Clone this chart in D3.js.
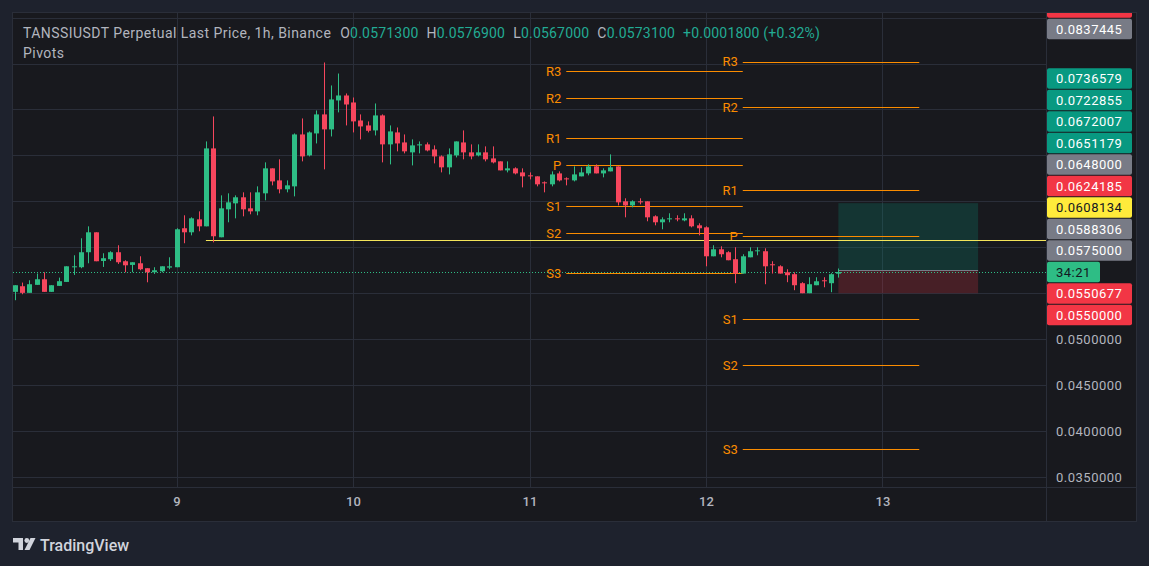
<!DOCTYPE html>
<html>
<head>
<meta charset="utf-8">
<script src="https://cdn.jsdelivr.net/npm/d3@7"></script>
<style>
  html, body { margin: 0; padding: 0; background: #1e222d; }
  svg { display: block; font-family: Roboto, "Noto Sans", sans-serif; }
</style>
</head>
<body>
<svg id="chart" width="1149" height="566"></svg>
<script>
// ---- data ----
const symbolTitle = 'TANSSIUSDT Perpetual Last Price, 1h, Binance';
const studyTitle = 'Pivots';
const firstCandle = '2025-03-08T02:00:00Z';
const viewRange = ['2025-03-08T01:46:00Z', '2025-03-13T22:14:00Z'];
const priceRange = [0.033912, 0.085496];
const priceTicks = [0.035, 0.04, 0.045, 0.05, 0.055, 0.06, 0.065, 0.07, 0.075, 0.08, 0.085];

const opens = [
  0.05515, 0.05576, 0.05504, 0.05591, 0.05652, 0.05515, 0.05580, 0.05623, 0.05783, 0.05783,
  0.05946, 0.06163, 0.05851, 0.05870, 0.05946, 0.05848, 0.05808, 0.05826, 0.05772, 0.05728,
  0.05739, 0.05779, 0.05783, 0.06207, 0.06163, 0.06304, 0.06228, 0.07076, 0.06109, 0.06413,
  0.06478, 0.06544, 0.06424, 0.06391, 0.06587, 0.06859, 0.06728, 0.06631, 0.06663, 0.07228,
  0.07000, 0.07239, 0.07446, 0.07283, 0.07598, 0.07652, 0.07576, 0.07380, 0.07326, 0.07272,
  0.07435, 0.07120, 0.07250, 0.07141, 0.07033, 0.07109, 0.07120, 0.07065, 0.06989, 0.06870,
  0.07000, 0.07141, 0.07033, 0.07000, 0.07033, 0.06967, 0.06935, 0.06837, 0.06859, 0.06815,
  0.06783, 0.06772, 0.06707, 0.06685, 0.06804, 0.06750, 0.06728, 0.06772, 0.06804, 0.06880,
  0.06804, 0.06826, 0.06880, 0.06500, 0.06456, 0.06500, 0.06500, 0.06337, 0.06272, 0.06304,
  0.06315, 0.06293, 0.06315, 0.06239, 0.06217, 0.05902, 0.05978, 0.05946, 0.05870, 0.05714,
  0.05891, 0.05957, 0.05957, 0.05815, 0.05793, 0.05728, 0.05707, 0.05609, 0.05500, 0.05587,
  0.05641, 0.05609, 0.05713
];
const highs = [
  0.05587, 0.05616, 0.05641, 0.05714, 0.05728, 0.05587, 0.05670, 0.05793, 0.05913, 0.06098,
  0.06228, 0.06163, 0.05935, 0.05957, 0.06022, 0.05859, 0.05837, 0.05902, 0.05772, 0.05783,
  0.05793, 0.05891, 0.06207, 0.06348, 0.06326, 0.06391, 0.07152, 0.07424, 0.06565, 0.06587,
  0.06565, 0.06598, 0.06598, 0.06663, 0.06924, 0.06859, 0.06957, 0.06728, 0.07239, 0.07402,
  0.07261, 0.07489, 0.08011, 0.07761, 0.07891, 0.07674, 0.07630, 0.07446, 0.07370, 0.07565,
  0.07446, 0.07326, 0.07304, 0.07228, 0.07174, 0.07152, 0.07141, 0.07109, 0.07000, 0.07076,
  0.07152, 0.07272, 0.07120, 0.07120, 0.07098, 0.07098, 0.06935, 0.06935, 0.06870, 0.06859,
  0.06815, 0.06772, 0.06717, 0.06826, 0.06826, 0.06761, 0.06880, 0.06870, 0.06902, 0.06902,
  0.06859, 0.07011, 0.06880, 0.06533, 0.06511, 0.06533, 0.06500, 0.06348, 0.06326, 0.06370,
  0.06348, 0.06370, 0.06348, 0.06261, 0.06228, 0.06022, 0.06011, 0.05957, 0.06000, 0.05924,
  0.06000, 0.06000, 0.05989, 0.05848, 0.05804, 0.05761, 0.05728, 0.05620, 0.05674, 0.05674,
  0.05674, 0.05718, 0.05769
];
const lows = [
  0.05424, 0.05489, 0.05504, 0.05591, 0.05515, 0.05515, 0.05580, 0.05623, 0.05699, 0.05772,
  0.05826, 0.05848, 0.05786, 0.05851, 0.05819, 0.05728, 0.05728, 0.05750, 0.05619, 0.05710,
  0.05728, 0.05761, 0.05783, 0.06044, 0.06130, 0.06174, 0.06228, 0.06054, 0.06109, 0.06272,
  0.06315, 0.06337, 0.06359, 0.06348, 0.06511, 0.06674, 0.06587, 0.06598, 0.06554, 0.06935,
  0.06989, 0.07130, 0.06848, 0.07206, 0.07468, 0.07326, 0.07250, 0.07174, 0.07250, 0.07217,
  0.06924, 0.06902, 0.07044, 0.07022, 0.06891, 0.07022, 0.07044, 0.06913, 0.06815, 0.06793,
  0.06978, 0.06957, 0.06957, 0.06989, 0.06935, 0.06913, 0.06837, 0.06815, 0.06793, 0.06652,
  0.06739, 0.06663, 0.06598, 0.06663, 0.06717, 0.06674, 0.06717, 0.06772, 0.06783, 0.06804,
  0.06761, 0.06826, 0.06456, 0.06326, 0.06435, 0.06467, 0.06283, 0.06239, 0.06196, 0.06272,
  0.06283, 0.06283, 0.06217, 0.06130, 0.05793, 0.05902, 0.05891, 0.05859, 0.05609, 0.05714,
  0.05891, 0.05913, 0.05598, 0.05714, 0.05714, 0.05620, 0.05533, 0.05500, 0.05500, 0.05587,
  0.05565, 0.05511, 0.05670
];
const closes = [
  0.05587, 0.05504, 0.05598, 0.05652, 0.05515, 0.05587, 0.05631, 0.05793, 0.05793, 0.05946,
  0.06163, 0.05848, 0.05881, 0.05946, 0.05837, 0.05804, 0.05837, 0.05761, 0.05728, 0.05750,
  0.05793, 0.05793, 0.06196, 0.06163, 0.06315, 0.06228, 0.07076, 0.06120, 0.06424, 0.06489,
  0.06544, 0.06413, 0.06391, 0.06598, 0.06859, 0.06717, 0.06631, 0.06674, 0.07228, 0.06989,
  0.07250, 0.07446, 0.07283, 0.07609, 0.07652, 0.07554, 0.07370, 0.07315, 0.07268, 0.07435,
  0.07120, 0.07261, 0.07130, 0.07044, 0.07109, 0.07120, 0.07054, 0.06989, 0.06870, 0.07011,
  0.07152, 0.07033, 0.06989, 0.07033, 0.06957, 0.06924, 0.06837, 0.06859, 0.06804, 0.06772,
  0.06772, 0.06685, 0.06696, 0.06793, 0.06728, 0.06739, 0.06793, 0.06815, 0.06880, 0.06804,
  0.06837, 0.06870, 0.06489, 0.06456, 0.06500, 0.06489, 0.06326, 0.06272, 0.06304, 0.06315,
  0.06304, 0.06315, 0.06228, 0.06207, 0.05902, 0.05978, 0.05924, 0.05859, 0.05714, 0.05902,
  0.05957, 0.05967, 0.05793, 0.05804, 0.05714, 0.05696, 0.05587, 0.05500, 0.05598, 0.05630,
  0.05630, 0.05707, 0.05731
];
const changeText = '+0.0001800 (+0.32%)';

const pivotLabels = ['R3', 'R2', 'R1', 'P', 'S1', 'S2', 'S3'];
const pivotPeriods = [
  ['2025-03-11T05:00:00Z', '2025-03-12T05:00:00Z'],
  ['2025-03-12T05:00:00Z', '2025-03-13T05:00:00Z']
];
const pivotLevelsA = [0.07915, 0.07621, 0.07186, 0.06892, 0.06446, 0.06152, 0.05717];
const pivotLevelsB = [0.08020, 0.07527, 0.06620, 0.06120, 0.05220, 0.04719, 0.03805];

const hLineValue = 0.0608134;
const hLineStart = '2025-03-09T04:00:00Z';

const positionTimes = ['2025-03-12T18:00:00Z', '2025-03-13T13:00:00Z'];
const positionEntry = 0.0575, positionTarget = 0.0648, positionStop = 0.055;

const badgeValues = [0.08554, 0.0837445, 0.0736579, 0.0722855, 0.0672007, 0.0651179, 0.0648,
  0.0624185, 0.0608134, 0.0588306, 0.0575, 0.0550677, 0.055];
const badgeKinds = ['red', 'gray', 'green', 'green', 'green', 'green', 'gray',
  'red', 'yellow', 'gray', 'gray', 'red', 'red'];
const countdownText = '34:21';

// ---- layout ----
const width = 1149, height = 566;
const pane = { left: 13, right: 1046, top: 13, bottom: 487 };
const axisRight = 1136, axisBottom = 521;
const up = '#2ebd85', down = '#f6465d';
const kindFill = { red: '#f23645', gray: '#787b86', green: '#089981', yellow: '#ffeb3b' };
const kindText = { red: '#ffffff', gray: '#ffffff', green: '#ffffff', yellow: '#131722' };
const pivotColor = '#fb8c00';
const textGray = '#b2b5be';

const svg = d3.select('#chart');
svg.append('rect').attr('width', width).attr('height', height).attr('fill', '#1e222d');
svg.append('rect')
  .attr('x', 12.5).attr('y', 12.5)
  .attr('width', axisRight - 12).attr('height', axisBottom - 12)
  .attr('fill', '#18191e').attr('stroke', '#2a2e39');

const defs = svg.append('defs');
defs.append('clipPath').attr('id', 'pane-clip').append('rect')
  .attr('x', pane.left).attr('y', pane.top)
  .attr('width', pane.right - pane.left).attr('height', pane.bottom - pane.top);
defs.append('clipPath').attr('id', 'axis-clip').append('rect')
  .attr('x', pane.right).attr('y', pane.top)
  .attr('width', axisRight - pane.right).attr('height', pane.bottom - pane.top);

const x = d3.scaleUtc().domain(viewRange.map(d => new Date(d))).range([pane.left, pane.right]);
const y = d3.scaleLinear().domain(priceRange).range([pane.bottom, pane.top]);
const crisp = v => Math.round(v) + 0.5;

const dayTicks = x.ticks(d3.utcDay.every(1));

// grid
const grid = svg.append('g');
grid.selectAll('.hg').data(priceTicks).join('line')
  .attr('x1', pane.left).attr('x2', pane.right)
  .attr('y1', d => crisp(y(d))).attr('y2', d => crisp(y(d)))
  .attr('stroke', '#2a2e39');
grid.selectAll('.vg').data(dayTicks).join('line')
  .attr('x1', d => crisp(x(d))).attr('x2', d => crisp(x(d)))
  .attr('y1', pane.top).attr('y2', pane.bottom)
  .attr('stroke', '#2a2e39');

// separators
svg.append('line').attr('x1', pane.right + 0.5).attr('x2', pane.right + 0.5)
  .attr('y1', pane.top).attr('y2', axisBottom).attr('stroke', '#2a2e39');
svg.append('line').attr('x1', pane.left).attr('x2', axisRight)
  .attr('y1', pane.bottom + 0.5).attr('y2', pane.bottom + 0.5).attr('stroke', '#2a2e39');

const plot = svg.append('g').attr('clip-path', 'url(#pane-clip)');

// long position tool
const px0 = x(new Date(positionTimes[0])), px1 = x(new Date(positionTimes[1]));
plot.append('rect')
  .attr('x', px0).attr('width', px1 - px0)
  .attr('y', y(positionTarget)).attr('height', y(positionEntry) - y(positionTarget))
  .attr('fill', 'rgba(8,153,129,0.22)');
plot.append('rect')
  .attr('x', px0).attr('width', px1 - px0)
  .attr('y', y(positionEntry)).attr('height', y(positionStop) - y(positionEntry))
  .attr('fill', 'rgba(242,54,69,0.22)');
plot.append('line')
  .attr('x1', px0).attr('x2', px1)
  .attr('y1', crisp(y(positionEntry))).attr('y2', crisp(y(positionEntry)))
  .attr('stroke', '#787b86');

// pivots
const pivotSets = [pivotLevelsA, pivotLevelsB];
pivotSets.forEach((levels, si) => {
  const x0 = x(new Date(pivotPeriods[si][0])), x1 = x(new Date(pivotPeriods[si][1]));
  const gp = plot.append('g');
  gp.selectAll('line').data(levels).join('line')
    .attr('x1', x0).attr('x2', x1)
    .attr('y1', d => crisp(y(d))).attr('y2', d => crisp(y(d)))
    .attr('stroke', pivotColor);
  gp.selectAll('text').data(levels).join('text')
    .attr('x', x0 - 5).attr('y', d => y(d))
    .attr('dy', '0.35em')
    .attr('text-anchor', 'end')
    .attr('font-size', 13)
    .attr('fill', pivotColor)
    .text((d, i) => pivotLabels[i]);
});

// horizontal line
plot.append('line')
  .attr('x1', x(new Date(hLineStart))).attr('x2', pane.right)
  .attr('y1', crisp(y(hLineValue))).attr('y2', crisp(y(hLineValue)))
  .attr('stroke', '#f4e55a');

// last price line
const lastClose = closes[closes.length - 1];
plot.append('line')
  .attr('x1', pane.left).attr('x2', pane.right)
  .attr('y1', crisp(y(lastClose))).attr('y2', crisp(y(lastClose)))
  .attr('stroke', up).attr('stroke-dasharray', '1,2');

// candles
const t0 = new Date(firstCandle);
const candles = opens.map((o, i) => ({
  t: d3.utcHour.offset(t0, i), o, h: highs[i], l: lows[i], c: closes[i]
}));
const col = d => d.c >= d.o ? up : down;
plot.selectAll('.wick').data(candles).join('line')
  .attr('class', 'wick')
  .attr('x1', d => crisp(x(d.t))).attr('x2', d => crisp(x(d.t)))
  .attr('y1', d => y(d.h)).attr('y2', d => y(d.l))
  .attr('stroke', col);
plot.selectAll('.body').data(candles).join('rect')
  .attr('class', 'body')
  .attr('x', d => Math.round(x(d.t)) - 2).attr('width', 5)
  .attr('y', d => y(Math.max(d.o, d.c)))
  .attr('height', d => Math.max(1, Math.abs(y(d.o) - y(d.c))))
  .attr('fill', col);

// ---- price badges (stacked around the countdown badge) ----
const bh = 21.5;
const badges = badgeValues.map((v, i) => ({
  v, kind: badgeKinds[i], label: d3.format('.7f')(v), w: 85
}));
badges.push({ v: lastClose, kind: 'countdown', label: countdownText, w: 53, anchor: true });
badges.sort((a, b) => b.v - a.v);
const ai = badges.findIndex(b => b.anchor);
badges.forEach(b => { b.y = y(b.v); });
for (let i = ai - 1; i >= 0; i--) badges[i].y = Math.min(badges[i].y, badges[i + 1].y - bh);
for (let i = ai + 1; i < badges.length; i++) badges[i].y = Math.max(badges[i].y, badges[i - 1].y + bh);

// price axis
const yAxis = d3.axisRight(y).tickValues(priceTicks).tickFormat(d3.format('.7f'))
  .tickSize(0).tickPadding(10);
const yg = svg.append('g').attr('transform', `translate(${pane.right},0)`).call(yAxis);
yg.select('.domain').remove();
yg.selectAll('text')
  .attr('fill', textGray).attr('font-size', 13).attr('letter-spacing', 0.5)
  .attr('font-family', 'Roboto, sans-serif')
  .style('display', d => badges.some(b => Math.abs(b.y - y(d)) < bh) ? 'none' : null);

const bg = svg.append('g').attr('clip-path', 'url(#axis-clip)');
const bsel = bg.selectAll('g').data(badges).join('g')
  .attr('transform', d => `translate(${pane.right + 1},${d.y})`);
bsel.append('rect')
  .attr('x', 0).attr('y', -bh / 2 + 0.5)
  .attr('width', d => d.w).attr('height', bh - 1)
  .attr('rx', 2)
  .attr('fill', d => d.kind === 'countdown' ? up : kindFill[d.kind]);
bsel.append('text')
  .attr('x', 9).attr('dy', '0.35em')
  .attr('font-size', 13).attr('letter-spacing', 0.5)
  .attr('fill', d => d.kind === 'countdown' ? '#131722' : kindText[d.kind])
  .text(d => d.label);

// time axis
const xAxis = d3.axisBottom(x).tickValues(dayTicks).tickFormat(d3.utcFormat('%-d'))
  .tickSize(0).tickPadding(10);
const xg = svg.append('g').attr('transform', `translate(0,${pane.bottom})`).call(xAxis);
xg.select('.domain').remove();
xg.selectAll('text').attr('fill', textGray).attr('font-size', 13).attr('font-weight', 500)
  .attr('font-family', 'Roboto, sans-serif');

// ---- header ----
const last = opens.length - 1;
const fmt = d3.format('.7f');
const ohlcLetters = ['O', 'H', 'L', 'C'];
const ohlcValues = [opens[last], highs[last], lows[last], closes[last]];
const header = svg.append('text').attr('x', 23).attr('y', 38)
  .attr('font-size', 14).attr('fill', textGray);
header.append('tspan').attr('letter-spacing', 0.45).text(symbolTitle);
ohlcLetters.forEach((lab, i) => {
  header.append('tspan').attr('dx', i === 0 ? 9 : 8).attr('letter-spacing', 0.2).text(lab);
  header.append('tspan').attr('fill', '#22ab94').attr('letter-spacing', 0.2).text(fmt(ohlcValues[i]));
});
header.append('tspan').attr('dx', 8).attr('fill', '#22ab94').attr('letter-spacing', 0.2).text(changeText);
svg.append('text').attr('x', 23).attr('y', 58)
  .attr('font-size', 14).attr('letter-spacing', 0.45).attr('fill', textGray).text(studyTitle);

// ---- watermark ----
const logo = svg.append('g').attr('fill', '#d1d4dc');
logo.append('path').attr('d', 'M13,538 H23 V550 H18.5 V542.5 H13 Z');
logo.append('circle').attr('cx', 26.8).attr('cy', 540.5).attr('r', 2.4);
logo.append('path').attr('d', 'M30.5,538 H35.5 L29.5,550 H24.5 Z');
svg.append('text').attr('x', 40).attr('y', 551)
  .attr('font-size', 16).attr('font-weight', 500).attr('fill', '#d1d4dc')
  .text('TradingView');
</script>
</body>
</html>
